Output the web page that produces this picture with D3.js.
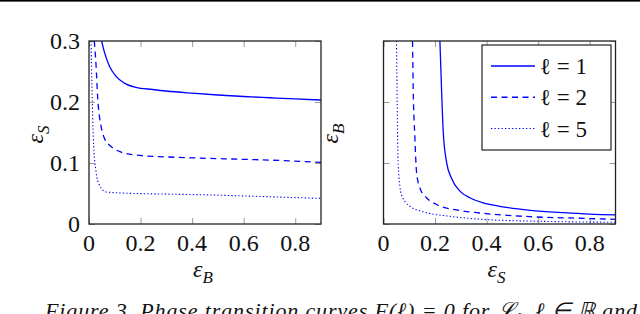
<!DOCTYPE html>
<html>
<head>
<meta charset="utf-8">
<script src="https://cdn.jsdelivr.net/npm/d3@7"></script>
<style>
  svg text, svg tspan { font-family: "Liberation Serif", "Times New Roman", Times, serif !important; }
</style>
</head>
<body style="margin:0">
<script>
// tick values shared by both panels
const xTicks = [0, 0.2, 0.4, 0.6, 0.8];
const yTicks = [0, 0.1, 0.2, 0.3];
const ells = [1, 2, 5];

// left panel: eps_S as a function of eps_B
const leftB1 = [0.049, 0.059, 0.079, 0.105, 0.137, 0.182, 0.247, 0.299, 0.398, 0.5, 0.6, 0.7, 0.8, 0.9];
const leftS1 = [0.300, 0.283, 0.259, 0.242, 0.231, 0.224, 0.2205, 0.218, 0.2145, 0.2115, 0.209, 0.207, 0.205, 0.2033];
const leftB2 = [0.0206, 0.0272, 0.0337, 0.0465, 0.0593, 0.0853, 0.1175, 0.182, 0.299, 0.43, 0.6, 0.75, 0.9];
const leftS2 = [0.300, 0.261, 0.207, 0.161, 0.141, 0.127, 0.119, 0.113, 0.110, 0.108, 0.106, 0.104, 0.101];
const leftB5 = [0.0078, 0.0116, 0.0167, 0.0272, 0.040, 0.066, 0.1175, 0.299, 0.43, 0.6, 0.75, 0.9];
const leftS5 = [0.300, 0.223, 0.141, 0.086, 0.064, 0.0525, 0.051, 0.049, 0.048, 0.046, 0.044, 0.042];

// right panel: eps_B as a function of eps_S
const rightS1 = [0.2188, 0.225, 0.2316, 0.2444, 0.2638, 0.2964, 0.335, 0.387, 0.45, 0.569, 0.7, 0.8, 0.9];
const rightB1 = [0.300, 0.223, 0.152, 0.102, 0.075, 0.054, 0.043, 0.0345, 0.029, 0.0225, 0.0185, 0.0162, 0.0148];
const rightS2 = [0.1125, 0.1152, 0.1218, 0.128, 0.1412, 0.1668, 0.2056, 0.2832, 0.387, 0.569, 0.75, 0.9];
const rightB2 = [0.300, 0.223, 0.141, 0.086, 0.059, 0.043, 0.032, 0.023, 0.0175, 0.012, 0.0095, 0.0077];
const rightS5 = [0.0504, 0.0531, 0.057, 0.0698, 0.1024, 0.154, 0.2576, 0.387, 0.6, 0.9];
const rightB5 = [0.300, 0.196, 0.097, 0.048, 0.029, 0.020, 0.0126, 0.0075, 0.0045, 0.0028];

const width = 640, height = 314;
const blue = "#0000ff";
const dashes = [null, "6,4.5", "1.3,2.2"];
const widths = [1.3, 1.3, 1.1];

const svg = d3.select("body").append("svg")
    .attr("width", width)
    .attr("height", height);

function label(parent, x, y, size) {
    return parent.append("text")
        .attr("x", x).attr("y", y)
        .attr("font-size", size)
        .attr("fill", "#111");
}

// rule at the very top of the page
svg.append("rect").attr("x", 0).attr("y", 0).attr("width", width).attr("height", 1.6).attr("fill", "#000");

function drawPanel(id, left, xLabelSub, yLabelSub, showYLabels, series) {
    const top = 41, bottom = 224, w = 232;
    const x = d3.scaleLinear().domain([0, 0.9]).range([left, left + w]);
    const y = d3.scaleLinear().domain([0, 0.3]).range([bottom, top]);

    svg.append("clipPath").attr("id", id)
        .append("rect").attr("x", left).attr("y", top).attr("width", w).attr("height", bottom - top);

    // inward gray ticks on all four sides
    const tickLen = 6;
    const xAxisB = d3.axisTop(x).tickValues(xTicks).tickSize(tickLen).tickFormat("");
    const xAxisT = d3.axisBottom(x).tickValues(xTicks).tickSize(tickLen).tickFormat("");
    const yAxisL = d3.axisRight(y).tickValues(yTicks).tickSize(tickLen).tickFormat("");
    const yAxisR = d3.axisLeft(y).tickValues(yTicks).tickSize(tickLen).tickFormat("");
    [[xAxisB, `translate(0,${bottom})`], [xAxisT, `translate(0,${top})`],
     [yAxisL, `translate(${left},0)`], [yAxisR, `translate(${left + w},0)`]].forEach(([ax, tr]) => {
        const g = svg.append("g").attr("transform", tr).call(ax);
        g.attr("font-family", null).attr("font-size", null);
        g.select(".domain").remove();
        g.selectAll(".tick text").remove();
        g.selectAll(".tick line").attr("stroke", "#9a9a9a").attr("stroke-width", 1);
    });

    // tick labels
    const fmt = d3.format("~g");
    xTicks.forEach(t => label(svg, x(t), 251, 24).attr("text-anchor", "middle").text(fmt(t)));
    if (showYLabels) {
        yTicks.forEach(t => label(svg, left - 9, y(t) + 8, 24).attr("text-anchor", "end").text(fmt(t)));
    }

    // curves
    const line = d3.line().x(d => x(d[0])).y(d => y(d[1])).curve(d3.curveMonotoneX);
    svg.append("g").attr("clip-path", `url(#${id})`)
        .selectAll("path").data(series).join("path")
        .attr("d", d => line(d3.zip(d.xs, d.ys)))
        .attr("fill", "none").attr("stroke", blue)
        .attr("stroke-width", (d, i) => widths[i])
        .attr("stroke-dasharray", (d, i) => dashes[i]);

    // frame
    svg.append("rect").attr("x", left).attr("y", top).attr("width", w).attr("height", bottom - top)
        .attr("fill", "none").attr("stroke", "#222").attr("stroke-width", 1.3);

    // axis labels
    const cx = left + w / 2;
    const xl = label(svg, cx - 12, 277, 24).attr("font-style", "italic");
    xl.append("tspan").text("ε");
    xl.append("tspan").attr("dy", 6).attr("font-size", 17).text(xLabelSub);

    const yl = label(svg, 0, 0, 24).attr("font-style", "italic")
        .attr("transform", `translate(${left - 46},${(top + bottom) / 2 + 11}) rotate(-90)`);
    yl.append("tspan").text("ε");
    yl.append("tspan").attr("dy", 6).attr("font-size", 17).text(yLabelSub);
}

drawPanel("clipL", 89, "B", "S", true, [
    { xs: leftB1, ys: leftS1 },
    { xs: leftB2, ys: leftS2 },
    { xs: leftB5, ys: leftS5 }
]);
drawPanel("clipR", 383.5, "S", "B", false, [
    { xs: rightS1, ys: rightB1 },
    { xs: rightS2, ys: rightB2 },
    { xs: rightS5, ys: rightB5 }
]);

// legend
const legend = svg.append("g");
legend.append("rect").attr("x", 482).attr("y", 45).attr("width", 129).attr("height", 105)
    .attr("fill", "#fff").attr("stroke", "#222").attr("stroke-width", 1.2);
const rowY = d3.scalePoint().domain(ells).range([66, 128.5]);
ells.forEach((e, i) => {
    legend.append("line").attr("x1", 491).attr("x2", 535)
        .attr("y1", rowY(e)).attr("y2", rowY(e))
        .attr("stroke", blue).attr("stroke-width", widths[i]).attr("stroke-dasharray", dashes[i]);
    label(legend, 540, rowY(e) + 8, 23).text(`ℓ = ${e}`);
});

// caption (cut off by the page bottom, as in the original)
const cap = label(svg, 45, 318, 22).attr("font-style", "italic")
    .attr("textLength", 592).attr("lengthAdjust", "spacing");
cap.append("tspan").text("Figure 3. Phase transition curves F(ℓ) = 0 for ℒ");
cap.append("tspan").attr("font-size", 15).attr("dy", 5).text("ℓ");
cap.append("tspan").attr("dy", -5).text(", ℓ ∈ ℝ and");
</script>
</body>
</html>
